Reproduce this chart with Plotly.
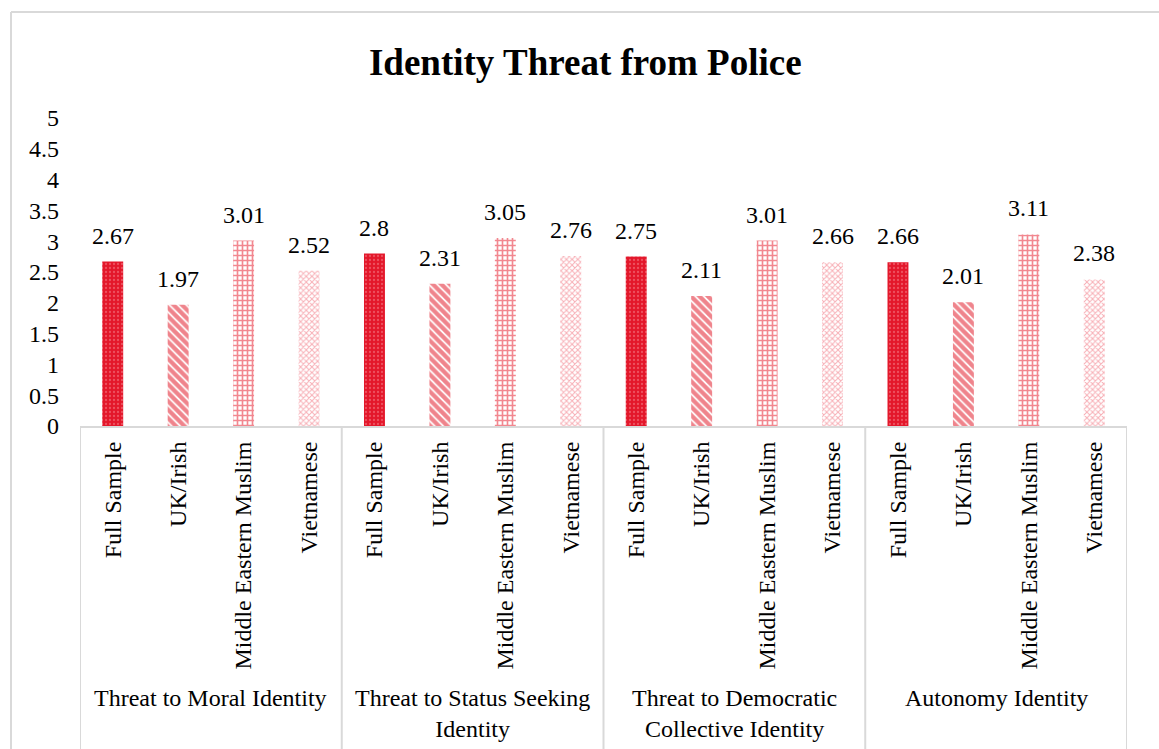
import plotly.graph_objects as go

# Survey means (1-5 scale) by identity dimension and sample group
dimensions = [
    "Threat to Moral Identity",
    "Threat to Status Seeking<br>Identity",
    "Threat to Democratic<br>Collective Identity",
    "Autonomy Identity",
]
groups = ["Full Sample", "UK/Irish", "Middle Eastern Muslim", "Vietnamese"]

full_sample = [2.67, 2.80, 2.75, 2.66]
uk_irish = [1.97, 2.31, 2.11, 2.01]
middle_eastern_muslim = [3.01, 3.05, 3.01, 3.11]
vietnamese = [2.52, 2.76, 2.66, 2.38]

y_ticks = [0, 0.5, 1, 1.5, 2, 2.5, 3, 3.5, 4, 4.5, 5]
y_tick_text = ["0", "0.5", "1", "1.5", "2", "2.5", "3", "3.5", "4", "4.5", "5"]

series = [full_sample, uk_irish, middle_eastern_muslim, vietnamese]

RED = "#E3172A"
FONT = "Liberation Serif, Times New Roman, serif"
GRID = "#D9D9D9"

styles = [
    dict(color=RED, pattern=dict(shape=".", fgcolor="#F58A94", size=4, solidity=0.25, fillmode="overlay")),
    dict(color="white", pattern=dict(shape="\\", fgcolor="#E00A1A", size=6, solidity=0.7, fillmode="overlay")),
    dict(color="white", pattern=dict(shape="+", fgcolor="#E5101F", size=5, solidity=0.55, fillmode="overlay")),
    dict(color="white", pattern=dict(shape="x", fgcolor="#F0606E", size=4, solidity=0.45, fillmode="overlay")),
]

# Flatten to one bar per (dimension, group) slot on a numeric axis
positions, values, labels = [], [], []
for d in range(len(dimensions)):
    for g in range(len(groups)):
        positions.append(d * len(groups) + g)
        values.append(series[g][d])
        labels.append(groups[g])

fig = go.Figure()
for g in range(len(groups)):
    xs = [d * len(groups) + g for d in range(len(dimensions))]
    fig.add_trace(go.Bar(
        x=xs,
        y=series[g],
        name=groups[g],
        width=0.32,
        marker=dict(line=dict(width=0), **styles[g]),
        showlegend=False,
        hoverinfo="y",
    ))

# Value labels above each bar
for x, v in zip(positions, values):
    fig.add_annotation(
        x=x, y=v, text=f"{v:g}", showarrow=False,
        yanchor="bottom", yshift=11,
        font=dict(family=FONT, size=24, color="black"),
    )

# Dimension labels beneath the group labels
n = len(groups)
for d, name in enumerate(dimensions):
    fig.add_annotation(
        x=d * n + (n - 1) / 2, y=0, xref="x", yref="paper",
        text=name, showarrow=False, yanchor="top", yshift=-257,
        font=dict(family=FONT, size=24, color="black"),
        align="center",
    )

# Category dividers running below the axis
plot_h = 749 - 118 - 323
for d in range(len(dimensions) + 1):
    fig.add_shape(
        type="line", xref="x", yref="paper",
        x0=d * n - 0.5, x1=d * n - 0.5, y0=0, y1=-(323 / plot_h) - 0.01,
        line=dict(color=GRID, width=2),
    )

# Chart-area border (left and top edges)
plot_w = 1159 - 80 - 32
fig.add_shape(type="line", xref="paper", yref="paper",
              x0=(11 - 80) / plot_w, x1=(11 - 80) / plot_w,
              y0=(426 - 12) / plot_h, y1=-(323 / plot_h) - 0.01,
              line=dict(color=GRID, width=2))
fig.add_shape(type="line", xref="paper", yref="paper",
              x0=(11 - 80) / plot_w, x1=1.1,
              y0=(426 - 12) / plot_h, y1=(426 - 12) / plot_h,
              line=dict(color=GRID, width=2))

fig.update_layout(
    width=1159, height=749,
    margin=dict(l=80, r=32, t=118, b=323),
    paper_bgcolor="white", plot_bgcolor="white",
    title=dict(text="<b>Identity Threat from Police</b>", x=0.505, xanchor="center",
               y=1 - 62 / 749, yanchor="middle",
               font=dict(family=FONT, size=37, color="black")),
    bargap=0.68,
    xaxis=dict(
        range=[-0.5, len(positions) - 0.5],
        tickmode="array", tickvals=positions, ticktext=labels,
        tickangle=-90, ticks="", showgrid=False, zeroline=False,
        showline=True, linecolor=GRID, linewidth=2,
        ticklabelstandoff=4,
        tickfont=dict(family=FONT, size=24, color="black"),
    ),
    yaxis=dict(
        range=[0, 5], tickmode="array", tickvals=y_ticks, ticktext=y_tick_text,
        showgrid=False, zeroline=False, showline=False, ticks="",
        ticklabelstandoff=20,
        tickfont=dict(family=FONT, size=24, color="black"),
    ),
)

fig.write_html("out.html")
